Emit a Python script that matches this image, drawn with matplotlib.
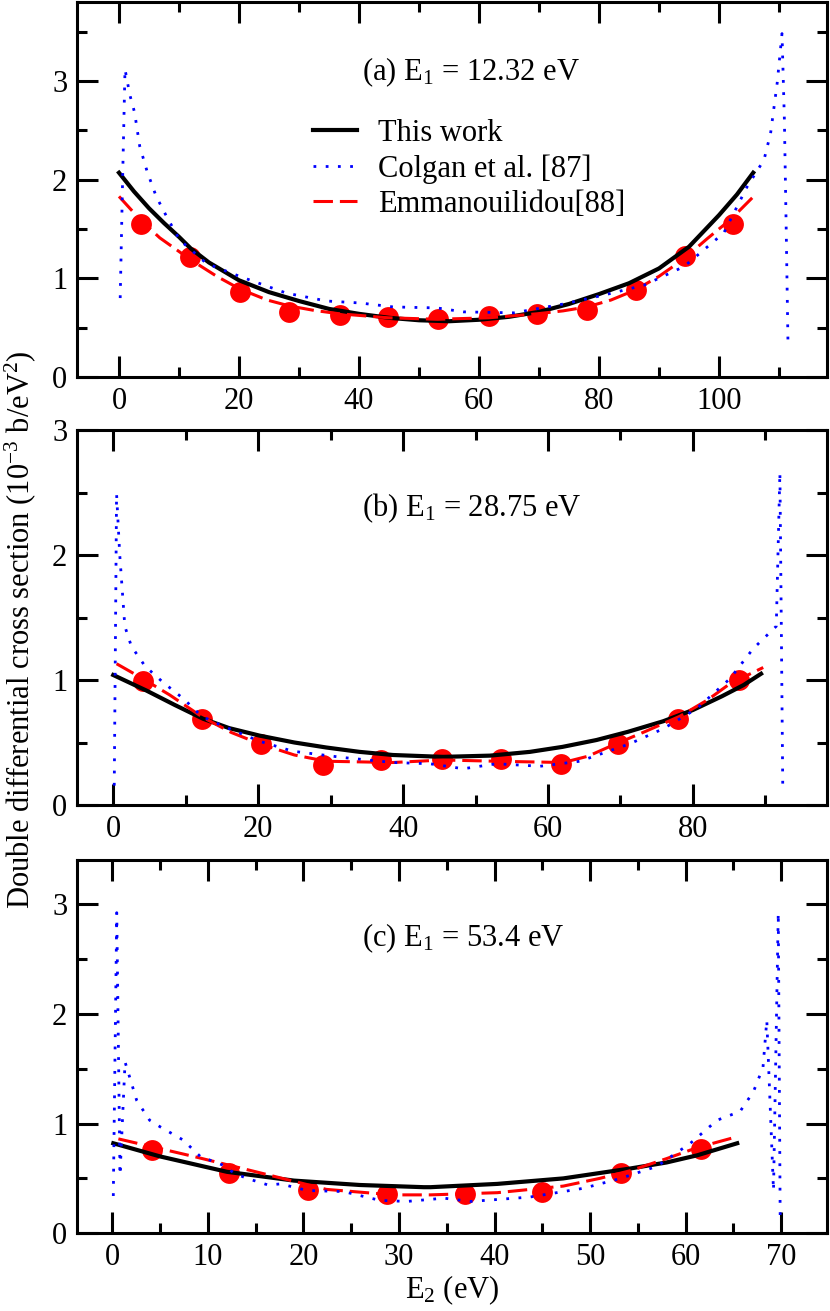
import numpy as np
import matplotlib
matplotlib.use('Agg')
import matplotlib.pyplot as plt
from matplotlib.ticker import MultipleLocator

plt.rcParams['font.family'] = ['Liberation Serif', 'DejaVu Serif']
plt.rcParams['mathtext.fontset'] = 'custom'
plt.rcParams['mathtext.rm'] = 'Liberation Serif'
plt.rcParams['mathtext.it'] = 'Liberation Serif:italic'
plt.rcParams['lines.scale_dashes'] = False

# ----- panel (a) E1 = 12.32 eV -----
a_this_x = [0, 2.5, 5, 7.5, 10, 12, 15, 20, 25, 30, 35, 40, 45, 50, 55, 60, 65, 70, 75, 80, 85, 90, 95, 100, 103, 105.7]
a_this_y = [2.07, 1.88, 1.71, 1.56, 1.42, 1.30, 1.16, 0.98, 0.86, 0.77, 0.69, 0.64, 0.60, 0.575, 0.565, 0.58,
            0.61, 0.66, 0.74, 0.84, 0.95, 1.10, 1.32, 1.64, 1.85, 2.07]
a_col_x = [0.2, 0.6, 1.0, 1.8, 2.6, 3.45, 4.7, 6.2, 7.9, 10.1, 14.6, 20.1, 27.9, 34.6, 40.2, 45.7, 53.0,
           57.4, 65.8, 74.1, 80.8, 87.5, 94.2, 100.8, 104.7, 107.5, 108.6, 109.7, 110.5, 110.9, 111.2, 111.5]
a_col_y = [0.80, 2.0, 3.12, 2.86, 2.68, 2.34, 2.08, 1.83, 1.63, 1.39, 1.15, 1.02, 0.85, 0.77, 0.75, 0.71, 0.70,
           0.66, 0.65, 0.74, 0.83, 0.93, 1.12, 1.46, 1.93, 2.2, 2.47, 2.98, 3.48, 2.6, 1.5, 0.33]
a_emm_x = [0, 3.6, 6.8, 11.9, 16.3, 20.2, 24.7, 28.4, 32.5, 36.8, 44.9, 53.1, 61.6, 69.6, 74, 78.0, 82, 86,
           90, 94, 98, 102, 106.1]
a_emm_y = [1.83, 1.59, 1.41, 1.19, 1.02, 0.89, 0.78, 0.72, 0.675, 0.64, 0.60, 0.585, 0.60, 0.64, 0.67, 0.71,
           0.78, 0.88, 1.02, 1.19, 1.40, 1.60, 1.85]
a_pts_x = [3.6, 11.9, 20.15, 28.4, 36.8, 44.9, 53.1, 61.6, 69.6, 78.0, 86.1, 94.3, 102.3]
a_pts_y = [1.55, 1.22, 0.866, 0.66, 0.63, 0.61, 0.585, 0.62, 0.64, 0.68, 0.883, 1.23, 1.55]

# ----- panel (b) E1 = 28.75 eV -----
b_this_x = [0, 4.6, 8.5, 12.4, 16, 20.2, 25, 29.4, 34, 38.6, 45.5, 52.0, 57.5, 62, 66.7, 71, 75.9, 80, 84, 87, 89.4]
b_this_y = [1.04, 0.915, 0.80, 0.69, 0.615, 0.555, 0.50, 0.46, 0.425, 0.40, 0.385, 0.395, 0.425, 0.465, 0.52,
            0.585, 0.67, 0.76, 0.87, 0.96, 1.05]
b_col_x = [0.14, 0.3, 0.46, 0.9, 1.6, 2.5, 4.4, 6.9, 9.7, 12.2, 15.2, 20.2, 24.8, 31.7, 38.6, 43.7, 48.3,
           52.9, 58.9, 64.4, 71.3, 75.9, 80.5, 85.1, 88.3, 91.5, 92.0, 92.2, 92.4]
b_col_y = [0.155, 1.3, 2.49, 2.0, 1.43, 1.27, 1.11, 0.98, 0.85, 0.71, 0.63, 0.51, 0.43, 0.38, 0.34, 0.33, 0.29,
           0.33, 0.31, 0.35, 0.49, 0.61, 0.77, 1.01, 1.25, 1.43, 2.66, 1.4, 0.11]
b_emm_x = [0.46, 4.1, 7.8, 12.4, 16.3, 20.2, 25, 29.4, 38.6, 45.5, 52.9, 62.1, 65.5, 69.0, 73.5, 78.2, 82, 85.1, 89.7]
b_emm_y = [1.13, 1.01, 0.88, 0.70, 0.58, 0.49, 0.40, 0.35, 0.34, 0.36, 0.35, 0.34, 0.39, 0.48, 0.59, 0.71, 0.84,
           0.97, 1.10]
b_pts_x = [4.1, 12.3, 20.4, 28.9, 36.9, 45.4, 53.5, 61.8, 69.7, 77.9, 86.3]
b_pts_y = [0.995, 0.69, 0.49, 0.32, 0.36, 0.37, 0.37, 0.33, 0.49, 0.69, 1.0]

# ----- panel (c) E1 = 53.4 eV -----
c_this_x = [0.1, 5.0, 12.0, 19.0, 25.9, 32.6, 33.3, 40.3, 47.2, 54.2, 58, 61.2, 65.4]
c_this_y = [0.82, 0.70, 0.56, 0.48, 0.44, 0.42, 0.42, 0.45, 0.50, 0.59, 0.645, 0.71, 0.82]
c_col_x = [0.1, 0.46, 0.8, 1.33, 2.55, 3.9, 5.0, 7.4, 9.2, 11.6, 12.8, 14.1, 16.3, 17.6, 20.4, 24.2, 28.0,
           30.8, 34.7, 37.5, 43.7, 49.3, 53.2, 57.0, 60.5, 63.3, 65.7, 67.1, 68.1, 68.5, 69.2, 69.7, 69.9]
c_col_y = [0.34, 2.92, 0.53, 1.56, 1.21, 1.03, 0.97, 0.85, 0.70, 0.62, 0.545, 0.50, 0.44, 0.45, 0.39, 0.38, 0.30,
           0.29, 0.32, 0.29, 0.33, 0.41, 0.50, 0.61, 0.82, 1.03, 1.11, 1.29, 1.51, 1.94, 0.39, 2.92, 0.14]
c_emm_x = [0.63, 8.5, 15.5, 22.4, 29.4, 33.3, 40.3, 47.2, 51, 54.2, 58, 61.2, 65.4]
c_emm_y = [0.86, 0.70, 0.55, 0.40, 0.35, 0.35, 0.37, 0.43, 0.50, 0.57, 0.68, 0.78, 0.88]
c_pts_x = [4.1, 12.2, 20.5, 28.7, 36.9, 45.0, 53.2, 61.6]
c_pts_y = [0.76, 0.545, 0.39, 0.355, 0.36, 0.38, 0.55, 0.77]

labels = ['This work', 'Colgan et al. [87]', 'Emmanouilidou[88]']
FS = 22

W, H = 830, 1311
fig = plt.figure(figsize=(W / 100, H / 100), dpi=100)


def make_axes(top, bottom):
    return fig.add_axes([77 / W, (H - bottom) / H, 750 / W, (bottom - top) / H])


def draw_panel(ax, this, col, emm, pts, xlim, ylim, xmaj, xmin_, title, ty):
    ax.plot(pts[0], pts[1], 'o', color='#ff0000', ms=15, mec='none', zorder=2)
    ax.plot(this[0], this[1], '-', color='k', lw=3, label=labels[0], zorder=3)
    ax.plot(col[0], col[1], color='#0000ff', lw=2, dashes=(2, 6.8), label=labels[1], zorder=4)
    ax.plot(emm[0], emm[1], color='#ff0000', lw=2.2, dashes=(14, 5), label=labels[2], zorder=3)
    ax.set_xlim(xlim)
    ax.set_ylim(ylim)
    ax.xaxis.set_major_locator(MultipleLocator(xmaj))
    ax.xaxis.set_minor_locator(MultipleLocator(xmin_))
    ax.yaxis.set_major_locator(MultipleLocator(1))
    ax.yaxis.set_minor_locator(MultipleLocator(0.5))
    ax.tick_params(which='both', direction='in', top=True, right=True, width=2.2, labelsize=FS)
    ax.tick_params(which='major', length=15)
    ax.tick_params(which='minor', length=7.5)
    ax.tick_params(axis='x', pad=7)
    ax.tick_params(axis='y', pad=7)
    for s in ax.spines.values():
        s.set_linewidth(2.2)
    ax.text(0.38, ty, title, transform=ax.transAxes, fontsize=FS, va='center', ha='left')


ax_a = make_axes(2, 377)
draw_panel(ax_a, (a_this_x, a_this_y), (a_col_x, a_col_y), (a_emm_x, a_emm_y), (a_pts_x, a_pts_y),
           (-7, 118), (0, 3.8), 20, 10, '(a) E$_1$ = 12.32 eV', 0.813)
ax_a.legend(loc='center left', bbox_to_anchor=(0.3147, 0.555), frameon=False, fontsize=FS,
            handlelength=1.44, handletextpad=0.69, labelspacing=0.2, borderpad=0, borderaxespad=0)

ax_b = make_axes(430, 805)
draw_panel(ax_b, (b_this_x, b_this_y), (b_col_x, b_col_y), (b_emm_x, b_emm_y), (b_pts_x, b_pts_y),
           (-5, 98.5), (0, 3), 20, 10, '(b) E$_1$ = 28.75 eV', 0.792)

ax_c = make_axes(860, 1233.3)
draw_panel(ax_c, (c_this_x, c_this_y), (c_col_x, c_col_y), (c_emm_x, c_emm_y), (c_pts_x, c_pts_y),
           (-3.7, 74.8), (0, 3.4), 10, 5, '(c) E$_1$ = 53.4 eV', 0.791)
ax_c.set_xlabel('E$_2$ (eV)', fontsize=FS, labelpad=1)

fig.text(20 / W, 1 - 630 / H, 'Double differential cross section (10$^{-3}$ b/eV$^2$)',
         rotation=90, fontsize=FS, ha='center', va='center')

fig.savefig('out.png', dpi=100)
